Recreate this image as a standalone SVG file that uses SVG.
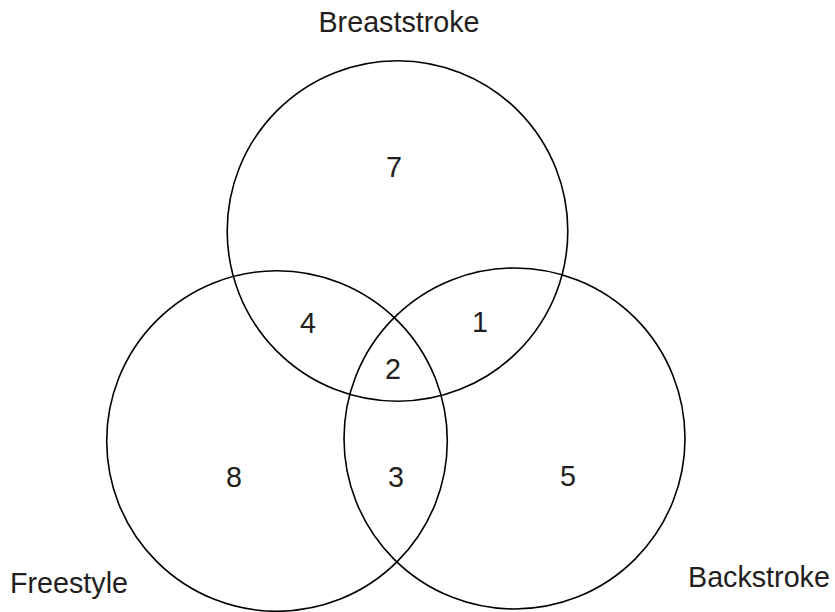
<svg xmlns="http://www.w3.org/2000/svg" width="835" height="612" viewBox="0 0 835 612">
<style>
.c{fill:none;stroke:#000;stroke-width:1.6}
.t{font-family:"Liberation Sans",Arial,sans-serif;font-size:28.7px;fill:#231f20}
.m{text-anchor:middle}
</style>
<rect width="835" height="612" fill="#fff"/>
<g id="breaststroke">
<circle class="c" cx="397.5" cy="231" r="170.3"/>
<text class="t m" x="399" y="32">Breaststroke</text>
</g>
<g id="freestyle">
<circle class="c" cx="277" cy="441" r="170.3"/>
<text class="t" x="10" y="593">Freestyle</text>
</g>
<g id="backstroke">
<circle class="c" cx="514.5" cy="438.5" r="170.5"/>
<text class="t" x="688" y="587">Backstroke</text>
</g>
<g id="counts">
<text class="t m" x="394" y="177">7</text>
<text class="t m" x="308" y="333">4</text>
<text class="t m" x="480" y="332">1</text>
<text class="t m" x="393" y="379">2</text>
<text class="t m" x="234" y="487">8</text>
<text class="t m" x="396" y="487">3</text>
<text class="t m" x="568" y="486">5</text>
</g>
</svg>
